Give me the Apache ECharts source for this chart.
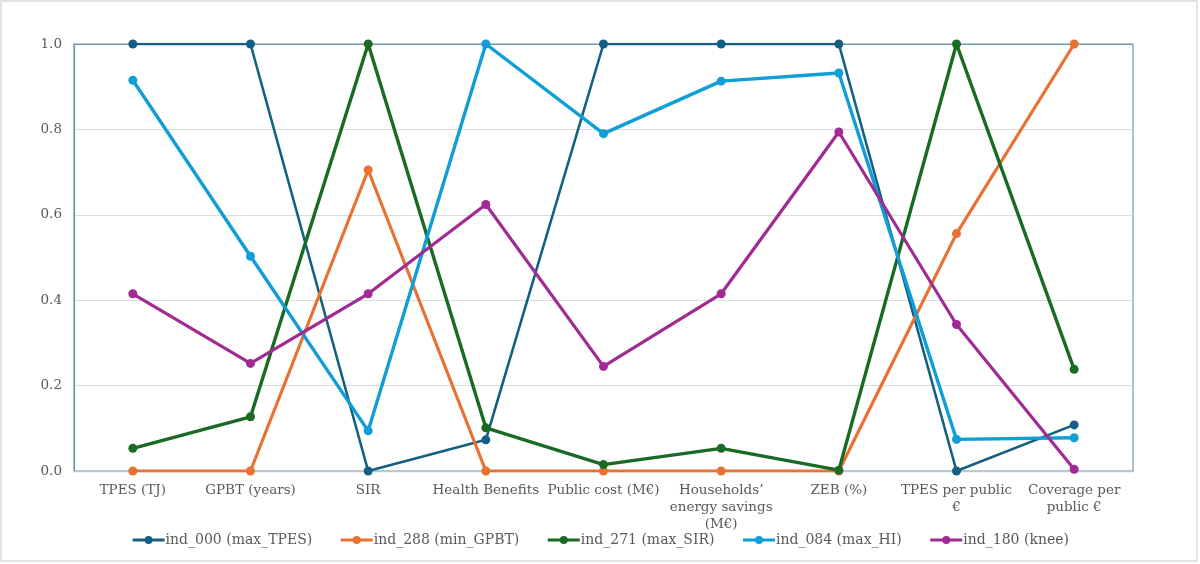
<!DOCTYPE html>
<html>
<head>
<meta charset="utf-8">
<title>Normalised indicators</title>
<script src="https://cdn.jsdelivr.net/npm/echarts@6/dist/echarts.min.js"></script>
<style>
  html, body { margin: 0; padding: 0; background: #fff; }
  #frame { position: absolute; left: 0; top: 0; width: 1198px; height: 562px; box-sizing: border-box; border: 2px solid #e2e2e2; }
  #main { position: absolute; left: 0; top: 0; width: 1200px; height: 564px; }
</style>
</head>
<body>
<div id="frame"></div>
<div id="main"></div>
<script>
// axis categories (line breaks as in the original labels)
const categories = [
  'TPES (TJ)',
  'GPBT (years)',
  'SIR',
  'Health Benefits',
  'Public cost (M€)',
  'Households’\nenergy savings\n(M€)',
  'ZEB (%)',
  'TPES per public\n€',
  'Coverage per\npublic €'
]

const yTicks = [0, 0.2, 0.4, 0.6, 0.8, 1.0]

// normalised values
const ind000 = [1.0, 1.0, 0.0, 0.073, 1.0, 1.0, 1.0, 0.0, 0.108]
const ind288 = [0.0, 0.0, 0.705, 0.0, 0.0, 0.0, 0.0, 0.556, 1.0]
const ind271 = [0.053, 0.127, 1.0, 0.101, 0.015, 0.053, 0.002, 1.0, 0.238]
const ind084 = [0.915, 0.503, 0.094, 1.0, 0.79, 0.913, 0.932, 0.074, 0.078]
const ind180 = [0.415, 0.252, 0.415, 0.624, 0.245, 0.415, 0.794, 0.343, 0.004]

const names = ['ind_000 (max_TPES)', 'ind_288 (min_GPBT)', 'ind_271 (max_SIR)', 'ind_084 (max_HI)', 'ind_180 (knee)']
const colors = ['#156082', '#e97132', '#196b24', '#0f9ed5', '#a02b93']
const widths = [2.6, 3.2, 3.4, 3.4, 3.2]
const values = [ind000, ind288, ind271, ind084, ind180]

const font = '"DejaVu Serif", Georgia, serif'
const frameBlue = '#6f97b0'

const chart = echarts.init(document.getElementById('main'))

const series = values.map((v, i) => ({
  name: names[i],
  type: 'line',
  data: v,
  symbol: 'circle',
  symbolSize: 9,
  lineStyle: { color: colors[i], width: widths[i] },
  itemStyle: { color: colors[i] },
  emphasis: { disabled: true }
}))

chart.setOption({
  animation: false,
  textStyle: { fontFamily: font },
  grid: {
    left: 74, right: 67, top: 44, bottom: 93,
    show: true, borderColor: frameBlue, borderWidth: 1.2
  },
  legend: {
    bottom: 12,
    left: 'center',
    itemWidth: 32,
    itemHeight: 10,
    itemGap: 27,
    lineStyle: { width: 3 },
    textStyle: { fontFamily: font, fontSize: 14, color: '#595959', padding: [0, 0, 0, -4] }
  },
  xAxis: {
    type: 'category',
    data: categories,
    boundaryGap: true,
    axisLine: { lineStyle: { color: '#b8c8d4', width: 1.4 } },
    axisTick: { show: false },
    axisLabel: {
      interval: 0,
      margin: 11,
      color: '#595959',
      fontFamily: font,
      fontSize: 13.5,
      lineHeight: 17
    },
    splitLine: { show: false }
  },
  yAxis: {
    type: 'value',
    min: yTicks[0],
    max: yTicks[yTicks.length - 1],
    interval: 0.2,
    axisLine: { show: true, lineStyle: { color: frameBlue, width: 1.2 } },
    axisTick: { show: false },
    axisLabel: {
      margin: 12,
      color: '#595959',
      fontFamily: font,
      fontSize: 13.5,
      formatter: v => v.toFixed(1)
    },
    splitLine: {
      lineStyle: {
        color: ['#dcdcdc', '#dcdcdc', '#dcdcdc', '#dcdcdc', '#dcdcdc', frameBlue],
        width: 1.2
      }
    }
  },
  series: series
})
</script>
</body>
</html>
